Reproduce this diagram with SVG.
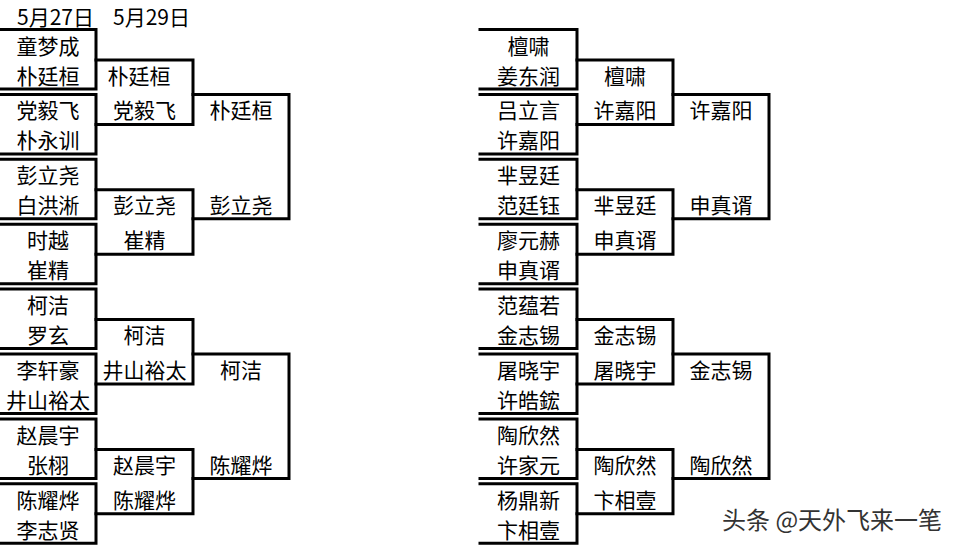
<svg xmlns="http://www.w3.org/2000/svg" width="961" height="545" viewBox="0 0 961 545">
<style>
.b{fill:none;stroke:#000;stroke-width:3;stroke-linecap:square}
text{font-family:"Noto Sans CJK SC","Noto Sans",sans-serif;font-size:21px;fill:#000;text-anchor:middle;dominant-baseline:central}
.h{text-anchor:start}
.wm{font-size:24px;fill:#333;text-anchor:start;stroke:#fff;stroke-width:1;paint-order:stroke}
</style>
<rect width="961" height="545" fill="#fff"/>
<g id="connectors">
<path class="b" d="M0,29.5H96V89H0M0,94.4H96V153.9H0M0,159.3H96V218.8H0M0,224.2H96V283.7H0M0,289.1H96V348.6H0M0,354H96V413.5H0M0,418.9H96V478.4H0M0,483.8H96V543.3H0"/>
<path class="b" d="M96,60H193V124.4H96M96,189.8H193V254.2H96M96,319.6H193V384H96M96,449.4H193V513.8H96"/>
<path class="b" d="M193,94.4H289V218.8H193M193,354H289V478.4H193"/>
<path class="b" d="M480,29.5H577V89H480M480,94.4H577V153.9H480M480,159.3H577V218.8H480M480,224.2H577V283.7H480M480,289.1H577V348.6H480M480,354H577V413.5H480M480,418.9H577V478.4H480M480,483.8H577V543.3H480"/>
<path class="b" d="M577,60H673V124.4H577M577,189.8H673V254.2H577M577,319.6H673V384H577M577,449.4H673V513.8H577"/>
<path class="b" d="M673,94.4H769V218.8H673M673,354H769V478.4H673"/>
</g>
<g id="header">
<text class="h" x="17" y="15.5">5月27日</text>
<text class="h" x="113" y="15.5">5月29日</text>
</g>
<g id="names" transform="translate(0,-1.5)">
<g id="L1-1"><text x="48" y="46">童梦成</text><text x="48" y="76">朴廷桓</text></g>
<g id="L1-2"><text x="48" y="110.9">党毅飞</text><text x="48" y="140.9">朴永训</text></g>
<g id="L1-3"><text x="48" y="175.8">彭立尧</text><text x="48" y="205.8">白洪淅</text></g>
<g id="L1-4"><text x="48" y="240.7">时越</text><text x="48" y="270.7">崔精</text></g>
<g id="L1-5"><text x="48" y="305.6">柯洁</text><text x="48" y="335.6">罗玄</text></g>
<g id="L1-6"><text x="48" y="370.5">李轩豪</text><text x="48" y="400.5">井山裕太</text></g>
<g id="L1-7"><text x="48" y="435.4">赵晨宇</text><text x="48" y="465.4">张栩</text></g>
<g id="L1-8"><text x="48" y="500.3">陈耀烨</text><text x="48" y="530.3">李志贤</text></g>
<g id="L2-1"><text x="139" y="76">朴廷桓</text><text x="144.5" y="110.9">党毅飞</text></g>
<g id="L2-2"><text x="144.5" y="205.8">彭立尧</text><text x="144.5" y="240.7">崔精</text></g>
<g id="L2-3"><text x="144.5" y="335.6">柯洁</text><text x="144.5" y="370.5">井山裕太</text></g>
<g id="L2-4"><text x="144.5" y="465.4">赵晨宇</text><text x="144.5" y="500.3">陈耀烨</text></g>
<g id="L3-1"><text x="241" y="110.9">朴廷桓</text><text x="241" y="205.8">彭立尧</text></g>
<g id="L3-2"><text x="241" y="370.5">柯洁</text><text x="241" y="465.4">陈耀烨</text></g>
<g id="R1-1"><text x="528.5" y="46">檀啸</text><text x="528.5" y="76">姜东润</text></g>
<g id="R1-2"><text x="528.5" y="110.9">吕立言</text><text x="528.5" y="140.9">许嘉阳</text></g>
<g id="R1-3"><text x="528.5" y="175.8">芈昱廷</text><text x="528.5" y="205.8">范廷钰</text></g>
<g id="R1-4"><text x="528.5" y="240.7">廖元赫</text><text x="528.5" y="270.7">申真谞</text></g>
<g id="R1-5"><text x="528.5" y="305.6">范蕴若</text><text x="528.5" y="335.6">金志锡</text></g>
<g id="R1-6"><text x="528.5" y="370.5">屠晓宇</text><text x="528.5" y="400.5">许皓鋐</text></g>
<g id="R1-7"><text x="528.5" y="435.4">陶欣然</text><text x="528.5" y="465.4">许家元</text></g>
<g id="R1-8"><text x="528.5" y="500.3">杨鼎新</text><text x="528.5" y="530.3">卞相壹</text></g>
<g id="R2-1"><text x="625" y="76">檀啸</text><text x="625" y="110.9">许嘉阳</text></g>
<g id="R2-2"><text x="625" y="205.8">芈昱廷</text><text x="625" y="240.7">申真谞</text></g>
<g id="R2-3"><text x="625" y="335.6">金志锡</text><text x="625" y="370.5">屠晓宇</text></g>
<g id="R2-4"><text x="625" y="465.4">陶欣然</text><text x="625" y="500.3">卞相壹</text></g>
<g id="R3-1"><text x="721" y="110.9">许嘉阳</text><text x="721" y="205.8">申真谞</text></g>
<g id="R3-2"><text x="721" y="370.5">金志锡</text><text x="721" y="465.4">陶欣然</text></g>
</g>
<g id="watermark"><text class="wm" x="722" y="518">头条 @天外飞来一笔</text></g>
</svg>
